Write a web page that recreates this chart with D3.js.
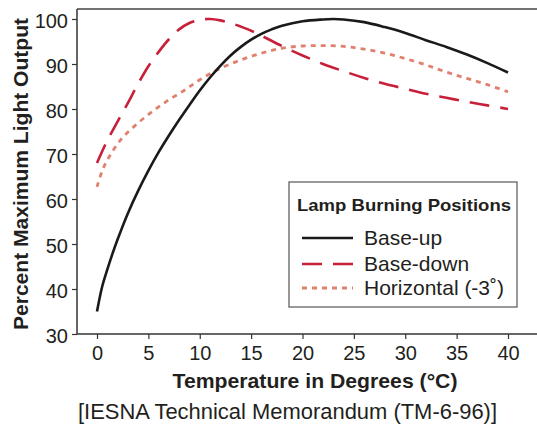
<!DOCTYPE html>
<html><head><meta charset="utf-8">
<script src="https://cdn.jsdelivr.net/npm/d3@7"></script>
<style>body{margin:0;background:#fff}svg{display:block}text{font-family:"Liberation Sans",Arial,sans-serif;fill:#231f20}</style>
</head><body><svg id="c" width="537" height="425"></svg>
<script>
const xTicks = [0,5,10,15,20,25,30,35,40];
const yTicks = [30,40,50,60,70,80,90,100];
const seriesNames = ["Base-up","Base-down","Horizontal (-3˚)"];
const baseUpT = [0,0.5,1,1.5,2,3,4,5,6,7,8,9,10,11,12,13,14,15,16,17,18,20,22,23,24,26,28,30,32,34,36,38,40];
const baseUpV = [35,40.5,44.3,47.8,51,56.8,61.8,66.3,70.4,74.1,77.6,80.9,84.1,87,89.6,91.9,93.8,95.4,96.7,97.7,98.5,99.5,99.9,100,99.9,99.3,98.2,96.9,95.3,93.8,92.1,90.2,88.1];
const baseDownT = [0,1,2,3,4,5,6,7,8,9,10,11,12,13,14,15,16,18,20,22,24,26,28,30,32,34,36,38,40];
const baseDownV = [68,73,77.2,81.3,85.6,89.5,92.7,95.5,97.7,99.1,99.8,100,99.7,99.1,98.3,97.4,96.3,94,91.9,90,88.4,86.9,85.6,84.5,83.4,82.5,81.6,80.8,80];
const horizT = [0,0.6,1.4,2.4,3.7,5.3,6.9,8.6,10,12,14,16,18,20,22,24,26,28,30,32,34,36,38,40];
const horizV = [62.7,66.8,70.2,73.4,76.3,79.3,81.9,84.3,86.5,89,90.9,92.4,93.5,94,94.1,93.9,93.3,92.4,91.2,89.8,88.2,86.8,85.4,83.8];

const svg = d3.select("#c");
const x = d3.scaleLinear().domain([0,40]).range([97,508]);
const y = d3.scaleLinear().domain([30,100]).range([334,19]);
const axisCol = "#333";
const font = "Liberation Sans, Arial, sans-serif";

// frame lines
svg.append("line").attr("x1",77).attr("x2",537).attr("y1",9).attr("y2",9).attr("stroke","#444").attr("stroke-width",1.3);
svg.append("line").attr("x1",77).attr("x2",77).attr("y1",9).attr("y2",334).attr("stroke",axisCol).attr("stroke-width",1.5);
svg.append("line").attr("x1",77).attr("x2",537).attr("y1",334).attr("y2",334).attr("stroke",axisCol).attr("stroke-width",1.5);

const xa = svg.append("g").attr("transform","translate(0,334)").call(d3.axisBottom(x).tickValues(xTicks).tickSize(5).tickPadding(7));
xa.select(".domain").remove();
xa.selectAll("line").attr("stroke",axisCol).attr("stroke-width",1.2);
xa.selectAll("text").attr("font-size",20).attr("fill","#231f20").attr("font-family",font);

const ya = svg.append("g").attr("transform","translate(77,0)").call(d3.axisLeft(y).tickValues(yTicks).tickSize(5).tickPadding(4));
ya.select(".domain").remove();
ya.selectAll("line").attr("stroke",axisCol).attr("stroke-width",1.2);
ya.selectAll("text").attr("font-size",20).attr("dy","0.4em").attr("fill","#231f20").attr("font-family",font);

const line = d3.line().x(d=>x(d[0])).y(d=>y(d[1])).curve(d3.curveCatmullRom.alpha(0.5));
const series = [
  {t:baseUpT, v:baseUpV, color:"#1b1a1a", dash:null, w:2.6},
  {t:baseDownT, v:baseDownV, color:"#c8203a", dash:"20,11", w:2.6},
  {t:horizT, v:horizV, color:"#e0806f", dash:"5,5", w:2.8}
];
[2,0,1].forEach(i=>{
  const s = series[i];
  svg.append("path").datum(s.t.map((t,j)=>[t,s.v[j]]))
    .attr("d",line).attr("fill","none").attr("stroke",s.color)
    .attr("stroke-width",s.w).attr("stroke-dasharray",s.dash);
});

// axis titles
svg.append("text").attr("x",315).attr("y",388).attr("text-anchor","middle")
  .attr("font-size",21).attr("font-weight","bold").attr("textLength",285).attr("lengthAdjust","spacingAndGlyphs")
  .text("Temperature in Degrees (°C)");
svg.append("text").attr("transform","translate(28,174) rotate(-90)").attr("text-anchor","middle")
  .attr("font-size",21).attr("font-weight","bold").attr("textLength",312).attr("lengthAdjust","spacingAndGlyphs")
  .text("Percent Maximum Light Output");
svg.append("text").attr("x",287.5).attr("y",419).attr("text-anchor","middle")
  .attr("font-size",21.5).attr("textLength",419).attr("lengthAdjust","spacingAndGlyphs")
  .text("[IESNA Technical Memorandum (TM-6-96)]");

// legend
const lg = svg.append("g");
lg.append("rect").attr("x",289).attr("y",182).attr("width",228).attr("height",125)
  .attr("fill","#fff").attr("stroke","#555").attr("stroke-width",1.2);
lg.append("text").attr("x",297).attr("y",210.5).attr("font-size",17).attr("font-weight","bold")
  .attr("textLength",214).attr("lengthAdjust","spacingAndGlyphs").text("Lamp Burning Positions");
const ly = [238,264,288];
series.forEach((s,i)=>{
  lg.append("line").attr("x1",302).attr("x2",353).attr("y1",ly[i]).attr("y2",ly[i])
    .attr("stroke",s.color).attr("stroke-width",s.w).attr("stroke-dasharray",s.dash);
  lg.append("text").attr("x",364).attr("y",ly[i]+6.5).attr("font-size",21).text(seriesNames[i]);
});
</script></body></html>
